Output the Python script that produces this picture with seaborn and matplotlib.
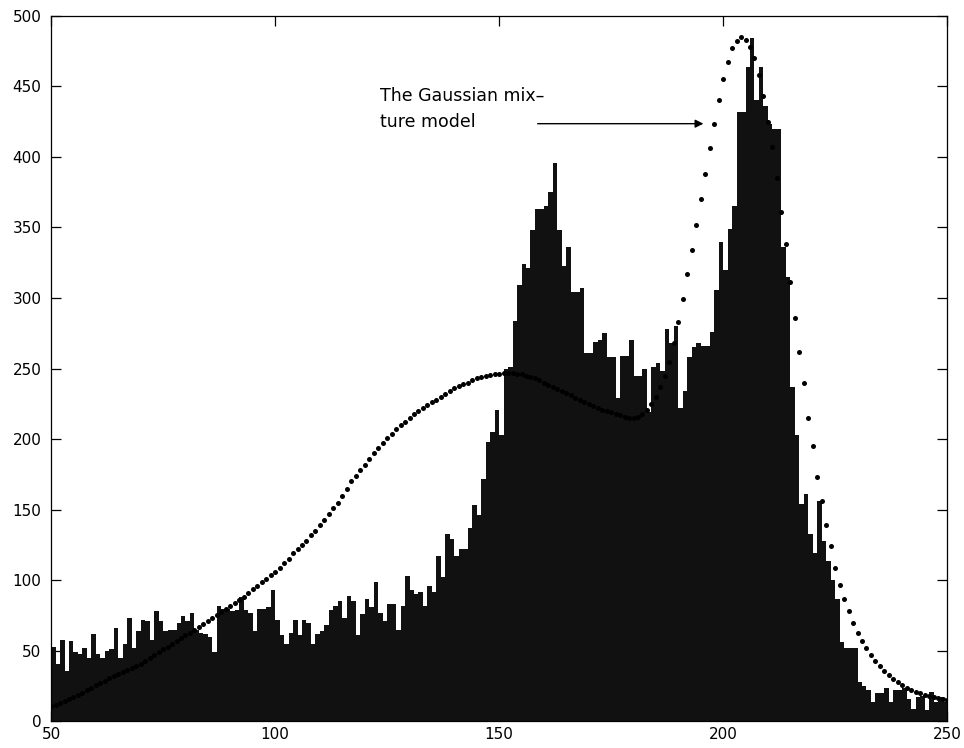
import numpy as np
import pandas as pd
import matplotlib
matplotlib.use("Agg")
import matplotlib.pyplot as plt
import seaborn as sns

# histogram counts, one bin per grey level 50..249
bin_left = list(range(50, 250))
counts = [
    53, 41, 58, 36, 57, 49, 48, 52, 45, 62,
    48, 45, 50, 51, 66, 45, 55, 73, 52, 64,
    72, 71, 58, 78, 71, 64, 65, 65, 70, 75,
    71, 77, 65, 63, 62, 60, 49, 82, 80, 80,
    78, 79, 88, 79, 77, 64, 80, 80, 81, 93,
    72, 61, 55, 63, 72, 61, 72, 70, 55, 62,
    64, 68, 79, 82, 85, 73, 89, 85, 61, 76,
    87, 81, 99, 77, 71, 83, 83, 65, 82, 103,
    93, 90, 92, 82, 96, 92, 117, 102, 133, 129,
    117, 122, 122, 137, 153, 146, 172, 198, 205, 221,
    203, 250, 251, 284, 309, 324, 321, 348, 363, 363,
    365, 375, 396, 348, 323, 336, 304, 304, 307, 261,
    261, 269, 270, 275, 258, 258, 229, 259, 259, 270,
    245, 245, 250, 219, 251, 254, 248, 278, 268, 280,
    222, 234, 258, 265, 268, 266, 266, 276, 306, 340,
    320, 349, 365, 432, 432, 464, 484, 440, 464, 436,
    423, 420, 420, 336, 315, 237, 203, 154, 161, 133,
    119, 156, 128, 114, 100, 87, 56, 52, 52, 52,
    28, 25, 22, 14, 20, 20, 24, 14, 22, 22,
    24, 16, 9, 17, 18, 8, 21, 14, 17, 14,
]

# gaussian mixture model, sampled at each grey level 50..250
model_x = list(range(50, 251))
model_y = [
    11, 12, 13, 14.5, 16, 17.5, 19, 20.5, 22, 24,
    25.5, 27, 29, 30.5, 32, 33.5, 35, 36.5, 38, 39.5,
    41, 43, 45, 47, 49, 51, 53, 55, 57, 59,
    61, 63, 65, 67, 69, 71, 73, 75.5, 77.5, 80,
    82, 84, 86, 88.5, 91, 93.5, 96, 98.5, 101, 103.5,
    106, 109, 112, 115, 119, 122, 125, 128, 132, 135,
    139, 143, 147, 151, 155, 160, 165, 170, 174, 178,
    182, 186, 190, 194, 197, 201, 204, 207, 210, 212,
    215, 218, 220, 222, 224, 226, 228, 230, 232, 234,
    236, 238, 239, 240, 242, 243, 244, 245, 245.5, 246,
    246.5, 247, 247, 247, 246.5, 246, 245, 244, 243, 242,
    240, 238.5, 237, 235.5, 234, 232.5, 231, 229.5, 228, 226.5,
    225, 223.5, 222, 221, 220, 219, 218, 217, 216, 215,
    215, 216, 218, 221, 225, 230, 237, 245, 255, 268,
    283, 299, 317, 334, 352, 370, 388, 406, 423, 440,
    455, 467, 477, 482, 485, 483, 478, 470, 458, 443,
    425, 407, 385, 361, 338, 311, 286, 262, 240, 215,
    195, 173, 156, 139, 124, 109, 97, 87, 78, 70,
    63, 57, 52, 47, 43, 39, 36, 33, 30, 28,
    26, 24, 22.5, 21, 20, 19, 18, 17, 16.5, 16,
    15.5,
]

x_ticks = [50, 100, 150, 200, 250]
y_ticks = [0, 50, 100, 150, 200, 250, 300, 350, 400, 450, 500]

hist_df = pd.DataFrame({"level": bin_left, "count": counts})
model_df = pd.DataFrame({"level": model_x, "p": model_y})

sns.set_style("ticks")
plt.rcParams["font.family"] = ["DejaVu Sans"]

fig = plt.figure(figsize=(9.64, 7.48), dpi=100)
ax = fig.add_axes([0.053, 0.0355, 0.9295, 0.9435])

sns.histplot(data=hist_df, x="level", weights="count", binwidth=1, binrange=(50, 250),
             element="step", fill=True, color="#111111", alpha=1, linewidth=0, ax=ax)
sns.scatterplot(data=model_df, x="level", y="p", marker="o", s=13, color="black",
                linewidth=0, ax=ax, zorder=3)

ax.set_xlim(50, 250)
ax.set_ylim(0, 500)
ax.set_xticks(x_ticks)
ax.set_yticks(y_ticks)
ax.set_xlabel("")
ax.set_ylabel("")
for s in ax.spines.values():
    s.set_visible(True)
    s.set_linewidth(0.9)
    s.set_color("black")
ax.tick_params(direction="in", length=7, width=0.9, top=True, right=True,
               labelsize=11, colors="black")
ax.tick_params(axis="x", pad=4)
ax.tick_params(axis="y", pad=7)

ax.text(123.4, 439.5, "The Gaussian mix\u2013", fontsize=12.5, va="baseline", color="black")
ax.text(123.4, 421.5, "ture model", fontsize=12.5, va="baseline", color="black")
ax.annotate("", xy=(195.6, 423.5), xytext=(158.6, 423.5),
            arrowprops=dict(arrowstyle="-|>", color="black", lw=1.0,
                            mutation_scale=12, shrinkA=0, shrinkB=0))

fig.savefig("out.png", dpi=100)
